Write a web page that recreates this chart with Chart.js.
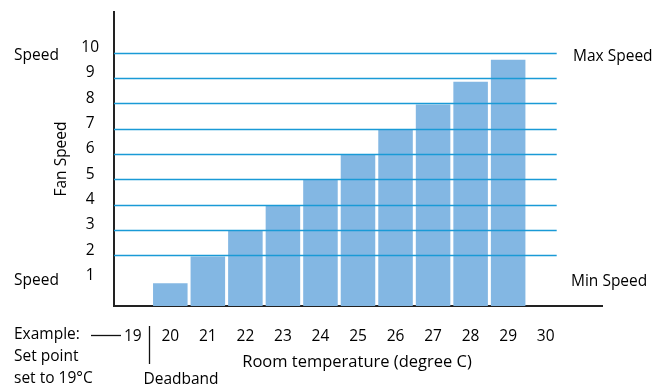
<!DOCTYPE html>
<html>
<head>
<meta charset="utf-8">
<script src="https://cdn.jsdelivr.net/npm/chart.js@4.4.0/dist/chart.umd.min.js"></script>
<style>
  html, body { margin: 0; padding: 0; background: #fff; }
  #wrap { width: 655px; height: 388px; position: relative; }
</style>
</head>
<body>
<div id="wrap"><canvas id="c" width="655" height="388"></canvas></div>
<script>
// room temperature categories (last one is an empty slot so the axis line runs on)
var temps = ['19', '20', '21', '22', '23', '24', '25', '26', '27', '28', '29', '30', ''];
// fan speed for each temperature
var fanSpeed = [null, 0.9, 1.95, 3, 3.95, 5, 6, 6.95, 7.95, 8.85, 9.72, null, null];
var yTicks = [1, 2, 3, 4, 5, 6, 7, 8, 9, 10];
var gridValues = [2, 3, 4, 5, 6, 7, 8, 9, 10];

var FONT = '"Open Sans", sans-serif';

// blue lines sit on top of the bars, plus the annotation text
var overlay = {
    id: 'overlay',
    afterDatasetsDraw: function(chart) {
        var ctx = chart.ctx;
        var x = chart.scales.x, y = chart.scales.y;
        var left = chart.chartArea.left;
        var right = x.getPixelForValue(11) + 11;

        ctx.save();
        ctx.strokeStyle = '#1a9ad6';
        ctx.lineWidth = 1.5;
        gridValues.forEach(function(v) {
            var py = Math.round(y.getPixelForValue(v)) + 0.5;
            ctx.beginPath();
            ctx.moveTo(left, py);
            ctx.lineTo(right, py);
            ctx.stroke();
        });

        ctx.fillStyle = '#000';
        ctx.textBaseline = 'middle';
        ctx.font = '15.5px ' + FONT;

        // left side labels
        ctx.textAlign = 'left';
        ctx.fillText('Speed', 14, 56);
        ctx.fillText('Speed', 14, 281);
        // right side labels
        ctx.fillText('Max Speed', 573, 57);
        ctx.fillText('Min Speed', 571, 282);

        // example block
        ctx.fillText('Example:', 14, 335);
        ctx.fillText('Set point', 14, 357);
        ctx.fillText('set to 19\u00B0C', 14, 379);

        ctx.textAlign = 'center';
        ctx.font = '16.5px ' + FONT;
        ctx.fillText('Room temperature (degree C)', 357, 362);
        ctx.font = '15.5px ' + FONT;
        ctx.fillText('Deadband', 181, 380);

        // fan speed title
        ctx.save();
        ctx.translate(62, 159);
        ctx.rotate(-Math.PI / 2);
        ctx.fillText('Fan Speed', 0, 0);
        ctx.restore();

        // dash pointing to 19 and deadband marker
        ctx.strokeStyle = '#111';
        ctx.lineWidth = 1.3;
        ctx.beginPath();
        ctx.moveTo(91, 335.5);
        ctx.lineTo(121, 335.5);
        ctx.stroke();
        ctx.beginPath();
        ctx.moveTo(149.5, 326);
        ctx.lineTo(149.5, 364);
        ctx.stroke();
        ctx.restore();
    }
};

new Chart(document.getElementById('c').getContext('2d'), {
    type: 'bar',
    data: {
        labels: temps,
        datasets: [{
            data: fanSpeed,
            backgroundColor: '#83b7e3',
            categoryPercentage: 1.0,
            barPercentage: 0.92
        }]
    },
    plugins: [overlay],
    options: {
        animation: false,
        responsive: false,
        maintainAspectRatio: false,
        layout: { padding: { top: 12, right: 53, left: 0, bottom: 0 } },
        plugins: {
            legend: { display: false },
            tooltip: { enabled: false }
        },
        scales: {
            x: {
                grid: { display: false, drawTicks: false },
                border: { color: '#222', width: 2 },
                ticks: {
                    color: '#000',
                    font: { family: FONT, size: 15.5 },
                    padding: 21,
                    maxRotation: 0,
                    autoSkip: false
                },
                afterFit: function(scale) {
                    scale.height = 82;
                    scale.paddingLeft = 0;
                    scale.paddingRight = 0;
                }
            },
            y: {
                min: 0,
                max: 11.6,
                grid: { display: false, drawTicks: false },
                border: { color: '#222', width: 2 },
                afterBuildTicks: function(scale) {
                    scale.ticks = yTicks.map(function(v) { return { value: v }; });
                },
                ticks: {
                    color: '#000',
                    font: { family: FONT, size: 15.5 },
                    crossAlign: 'center',
                    padding: 15,
                    labelOffset: -5
                },
                afterFit: function(scale) {
                    scale.width = 114;
                    scale.paddingTop = 0;
                    scale.paddingBottom = 0;
                }
            }
        }
    }
});
</script>
</body>
</html>
